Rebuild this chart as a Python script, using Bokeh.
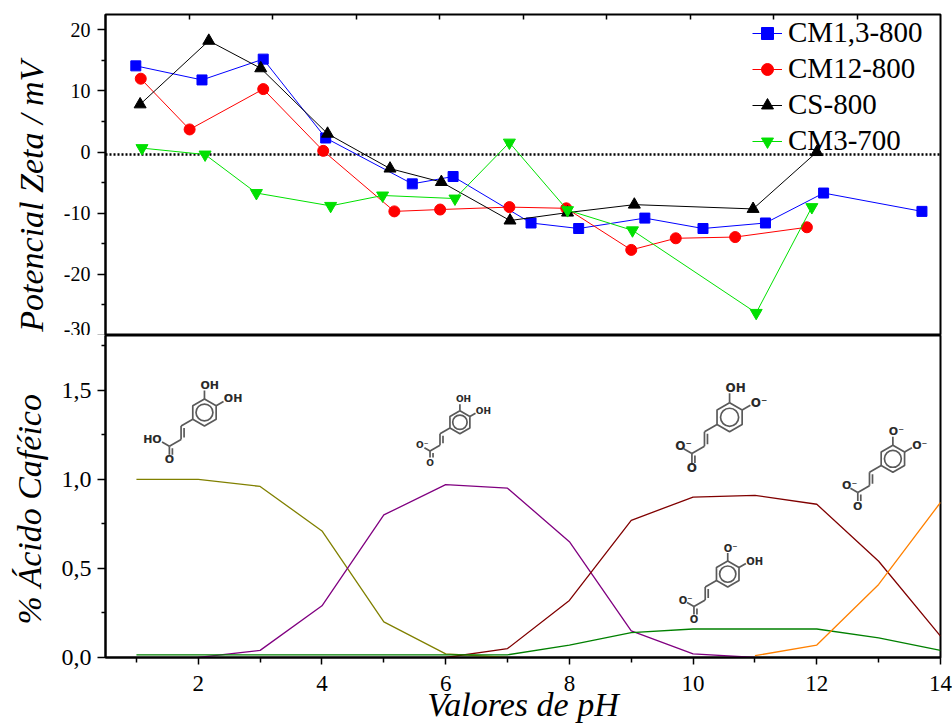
import math
from bokeh.plotting import figure
from bokeh.layouts import column
from bokeh.models import (Range1d, LinearAxis, FixedTicker, CustomJSTickFormatter,
                          Span, Legend, LegendItem)
from bokeh.core.properties import value
from bokeh.embed import file_html
from bokeh.resources import INLINE

# --- Top panel: zeta potential (mV) versus pH ---
ph_cm13 = [0.99, 2.06, 3.05, 4.06, 5.46, 6.12, 7.38, 8.15, 9.22, 10.16, 11.17, 12.11, 13.70]
zeta_cm13 = [14.1, 11.8, 15.2, 2.3, -5.2, -4.0, -11.6, -12.5, -10.8, -12.5, -11.6, -6.7, -9.7]

ph_cm12 = [1.07, 1.86, 3.05, 4.02, 5.17, 5.91, 7.03, 7.95, 9.00, 9.72, 10.68, 11.84]
zeta_cm12 = [12.0, 3.7, 10.3, 0.2, -9.7, -9.4, -9.0, -9.2, -16.0, -14.1, -13.9, -12.3]

ph_cs = [1.06, 2.17, 3.01, 4.09, 5.10, 5.93, 7.04, 7.97, 9.05, 10.97, 12.00]
zeta_cs = [7.8, 18.2, 13.7, 3.0, -2.7, -4.9, -11.2, -9.9, -8.6, -9.3, 0.0]

ph_cm3 = [1.09, 2.11, 2.94, 4.14, 4.98, 6.15, 7.03, 7.97, 9.02, 11.02, 11.92]
zeta_cm3 = [0.65, -0.4, -6.7, -8.8, -7.1, -7.6, 1.55, -9.5, -12.8, -26.3, -9.0]

zero_line = -0.4

# --- Bottom panel: caffeic acid species fraction versus pH ---
ph_h2a = [1, 2, 3, 4, 5, 6, 7]
frac_h2a = [1.0, 1.0, 0.96, 0.71, 0.20, 0.02, 0.0]

ph_ha = [2, 3, 4, 5, 6, 7, 8, 9, 10, 11]
frac_ha = [0.0, 0.04, 0.29, 0.80, 0.97, 0.95, 0.65, 0.15, 0.02, 0.0]

ph_a4 = [6, 7, 8, 9, 10, 11, 12, 13, 14]
frac_a4 = [0.0, 0.05, 0.32, 0.77, 0.90, 0.91, 0.86, 0.54, 0.12]

ph_a3 = [1, 2, 3, 4, 5, 6, 7, 8, 9, 10, 11, 12, 13, 14]
frac_a3 = [0.015, 0.015, 0.015, 0.015, 0.015, 0.015, 0.015, 0.07, 0.14, 0.16, 0.16, 0.16, 0.11, 0.04]

ph_a = [11, 12, 13, 14]
frac_a = [0.01, 0.07, 0.41, 0.87]

SERIF = "Liberation Serif, Times New Roman, serif"
NBSP = "\u00a0"
X_START, X_END = 0.5, 14.0
Y1_START, Y1_END = -30, 22.5
WIDTH = 952
BORDER_LEFT, BORDER_RIGHT = 105, 12
FRAME_W = WIDTH - BORDER_LEFT - BORDER_RIGHT
TOP_H, TOP_BORDER = 335, 14
BOTTOM_H, BOTTOM_BORDER = 390, 68
Y2_END = 1.807
PX_X = FRAME_W / (X_END - X_START)
PX_Y = (BOTTOM_H - BOTTOM_BORDER) / Y2_END
BOND_COLOR = "#5a5a5a"
ATOM_COLOR = "#2a2a2a"


def style_frame(p):
    """Common look of both panels."""
    p.grid.visible = False
    p.outline_line_color = "black"
    p.outline_line_width = 2
    p.background_fill_color = "white"
    p.border_fill_color = "white"


def style_axis(ax, font_size):
    ax.axis_line_width = 2
    ax.major_tick_line_width = 1.5
    ax.minor_tick_line_width = 1.5
    ax.major_tick_in = 0
    ax.minor_tick_in = 0
    ax.major_tick_out = 8
    ax.minor_tick_out = 4
    ax.major_label_text_font = SERIF
    ax.major_label_text_font_size = font_size
    ax.major_label_text_color = "black"
    ax.axis_label_text_font = SERIF
    ax.axis_label_text_font_size = "34px"
    ax.axis_label_text_font_style = "italic"
    ax.axis_label_text_color = "black"


def create_zeta_plot():
    p = figure(width=WIDTH, height=TOP_H, x_range=Range1d(X_START, X_END),
               y_range=Range1d(Y1_START, Y1_END), x_axis_location=None,
               toolbar_location=None, output_backend="svg",
               min_border_left=BORDER_LEFT, min_border_right=BORDER_RIGHT,
               min_border_top=TOP_BORDER, min_border_bottom=0)
    style_frame(p)

    ax = p.yaxis[0]
    ax.ticker = FixedTicker(ticks=[-30, -20, -10, 0, 10, 20], minor_ticks=[-25, -15, -5, 5, 15])
    ax.formatter = CustomJSTickFormatter(code="return tick.toFixed(0)")
    style_axis(ax, "20px")
    ax.major_label_standoff = 7
    # trailing no-break spaces push the label toward the bottom, as in the original
    ax.axis_label = "Potencial Zeta / mV" + NBSP * 5
    ax.axis_label_standoff = 11

    # tick marks along the top edge (no labels)
    p.extra_x_ranges = {"top": Range1d(0, 10)}
    top = LinearAxis(x_range_name="top", ticker=FixedTicker(ticks=list(range(1, 10)), minor_ticks=[]),
                     formatter=CustomJSTickFormatter(code="return ''"),
                     major_tick_in=5, major_tick_out=0, major_tick_line_width=1.5,
                     major_label_standoff=0, axis_line_color=None)
    p.add_layout(top, "above")

    p.add_layout(Span(location=zero_line, dimension="width", line_color="black",
                      line_dash="2 2", line_width=2.5, level="underlay"))

    series = [
        (ph_cm13, zeta_cm13, "#0000ff", "square", 10, "CM1,3-800"),
        (ph_cm12, zeta_cm12, "#ff0000", "circle", 11, "CM12-800"),
        (ph_cs, zeta_cs, "black", "triangle", 12, "CS-800"),
        (ph_cm3, zeta_cm3, "#00e000", "inverted_triangle", 12, "CM3-700"),
    ]
    items = []
    for ph, z, color, marker, size, label in series:
        ln = p.line(ph, z, line_color=color, line_width=1)
        sc = p.scatter(ph, z, marker=marker, size=size, fill_color=color, line_color=color)
        items.append(LegendItem(label=label, renderers=[ln, sc]))

    legend = Legend(items=items, location=(647, 178), padding=0, margin=0,
                    spacing=3, glyph_width=30, glyph_height=32, label_height=32,
                    label_standoff=6, border_line_color=None, background_fill_alpha=0,
                    label_text_font=SERIF, label_text_font_size="29px",
                    label_text_color="black")
    p.add_layout(legend)
    return p


def shorten(a, b, gap):
    """Move point b toward a by gap pixels."""
    dx, dy = b[0] - a[0], b[1] - a[1]
    d = math.hypot(dx, dy)
    return (b[0] - dx / d * gap, b[1] - dy / d * gap)


def add_molecule(p, x0, y0, s, top_lbl, right_lbl, acid_lbl):
    """Skeletal formula of a caffeic acid species, ring centred at (x0, y0)."""
    c = math.cos(math.pi / 6)

    def at(pt):
        return x0 + pt[0] / PX_X, y0 + pt[1] / PX_Y

    ring = [(s * math.cos(math.radians(a)), s * math.sin(math.radians(a)))
            for a in (90, 30, -30, -90, -150, 150, 90)]
    p.line([at(q)[0] for q in ring], [at(q)[1] for q in ring],
           line_color=BOND_COLOR, line_width=1.7)
    p.scatter([x0], [y0], marker="circle", size=1.25 * s, fill_color=None,
              line_color=BOND_COLOR, line_width=1.7)

    L = s
    top_v, top_o = (0, s), (0, s + L)
    ur_v = (s * c, s / 2)
    right_o = (ur_v[0] + L * c, ur_v[1] + L / 2)
    ll_v = (-s * c, -s / 2)
    a = (ll_v[0] - L * c, ll_v[1] - L / 2)
    b = (a[0], a[1] - L)
    cc = (b[0] - L * c, b[1] - L / 2)
    o_dn = (cc[0], cc[1] - L)
    o_ac = (cc[0] - L * c, cc[1] + L / 2)

    gap = 5
    segs = [
        (top_v, shorten(top_v, top_o, gap)),
        (ur_v, shorten(ur_v, right_o, gap)),
        (ll_v, a), (a, b), ((a[0] + 3, a[1] - 2), (b[0] + 3, b[1] + 2)),
        (b, cc),
        (cc, shorten(cc, o_dn, gap)),
        ((cc[0] + 3, cc[1] - 2), (o_dn[0] + 3, o_dn[1] + gap)),
        (cc, shorten(cc, o_ac, gap)),
    ]
    p.multi_line([[at(u)[0], at(v)[0]] for u, v in segs],
                 [[at(u)[1], at(v)[1]] for u, v in segs],
                 line_color=BOND_COLOR, line_width=1.7)

    fs = "%dpx" % round(s * 0.8)
    labels = [
        (top_o, top_lbl, "left", -4),
        (right_o, right_lbl, "left", -4),
        (o_dn, "O", "center", 0),
        (o_ac, acid_lbl, "right" if acid_lbl == "HO" else "left",
         4 if acid_lbl == "HO" else -4),
    ]
    for pt, txt, align, off in labels:
        x, y = at((pt[0] + off, pt[1]))
        p.text([x], [y], text=[txt], text_font=value("DejaVu Sans"), text_font_style="bold",
               text_font_size=fs, text_align=align, text_baseline="middle",
               text_color=ATOM_COLOR)


def create_species_plot(x_range):
    p = figure(width=WIDTH, height=BOTTOM_H, x_range=x_range,
               y_range=Range1d(0, Y2_END), toolbar_location=None, output_backend="svg",
               min_border_left=BORDER_LEFT, min_border_right=BORDER_RIGHT,
               min_border_top=0, min_border_bottom=BOTTOM_BORDER)
    style_frame(p)

    xa = p.xaxis[0]
    xa.ticker = FixedTicker(ticks=[2, 4, 6, 8, 10, 12, 14], minor_ticks=[1, 3, 5, 7, 9, 11, 13])
    xa.formatter = CustomJSTickFormatter(code="return tick.toFixed(0)")
    style_axis(xa, "23px")
    xa.major_tick_out = 7
    xa.minor_tick_out = 5
    xa.major_label_standoff = 11
    xa.major_label_text_baseline = "top"
    xa.axis_label = "Valores de pH"
    xa.axis_label_standoff = -8

    ya = p.yaxis[0]
    ya.ticker = FixedTicker(ticks=[0, 0.5, 1.0, 1.5], minor_ticks=[0.25, 0.75, 1.25, 1.75])
    ya.formatter = CustomJSTickFormatter(code="return tick.toFixed(1).replace('.', ',')")
    style_axis(ya, "24px")
    ya.major_label_standoff = 6
    ya.axis_label = "% Ácido Caféico" + NBSP * 3
    ya.axis_label_standoff = 11

    curves = [
        (ph_h2a, frac_h2a, "#808000"),
        (ph_ha, frac_ha, "#800080"),
        (ph_a4, frac_a4, "#800000"),
        (ph_a3, frac_a3, "#008000"),
        (ph_a, frac_a, "#ff8000"),
    ]
    for ph, fr, color in curves:
        p.line(ph, fr, line_color=color, line_width=1.3)

    add_molecule(p, 2.10, 1.375, 13.5, "OH", "OH", "HO")
    add_molecule(p, 6.23, 1.32, 11.5, "OH", "OH", "O⁻")
    add_molecule(p, 10.59, 1.348, 14.5, "OH", "O⁻", "O⁻")
    add_molecule(p, 13.23, 1.115, 13.5, "O⁻", "O⁻", "O⁻")
    add_molecule(p, 10.56, 0.468, 13, "O⁻", "OH", "O⁻")
    return p


top = create_zeta_plot()
bottom = create_species_plot(top.x_range)
layout = column(top, bottom, spacing=0)
open("out.html", "w").write(file_html(layout, INLINE))
